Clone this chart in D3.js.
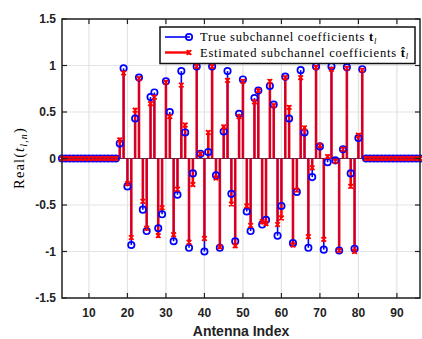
<!DOCTYPE html>
<html><head><meta charset="utf-8">
<script src="https://cdn.jsdelivr.net/npm/d3@7"></script>
<style>body{margin:0;background:#fff}svg{display:block}</style>
</head><body>
<svg id="c" width="422" height="339"></svg>
<script>
// ---- data ----
const firstIndex = 3, lastIndex = 96;
const antennaIndex = d3.range(firstIndex, lastIndex + 1);
const trueValues = [
  0,0,0,0,0,0,0,0,0,0,0,0,0,0,0,
  0.16,0.97,-0.30,-0.93,0.43,0.87,-0.55,-0.78,0.66,0.71,
  -0.75,-0.60,0.83,0.50,-0.89,-0.39,0.94,0.28,-0.96,-0.16,
  0.99,0.05,-1.00,0.07,0.99,-0.18,-0.96,0.29,0.94,-0.38,
  -0.89,0.48,0.85,-0.57,-0.78,0.65,0.73,-0.71,-0.66,0.78,
  0.58,-0.83,-0.51,0.88,0.43,-0.91,-0.36,0.95,0.28,-0.96,
  -0.20,0.99,0.13,-0.98,-0.04,0.99,-0.02,-0.99,0.10,0.98,
  -0.16,-0.97,0.22,0.96,
  0,0,0,0,0,0,0,0,0,0,0,0,0,0,0
];
const estValues = [
  0,0,0,0,0,0,0,0,0,0,0,0,0,0,0,
  0.20,0.92,-0.27,-0.85,0.52,0.86,-0.46,-0.75,0.59,0.66,
  -0.83,-0.53,0.82,0.45,-0.82,-0.33,0.79,0.36,-0.90,-0.28,
  0.99,0.05,-0.86,0.28,0.99,-0.21,-0.95,0.34,0.84,-0.49,
  -0.94,0.45,0.83,-0.51,-0.72,0.61,0.73,-0.68,-0.70,0.83,
  0.57,-0.71,-0.64,0.87,0.55,-0.93,-0.34,0.87,0.33,-0.84,
  -0.10,0.98,0.14,-0.87,0.02,0.96,-0.03,-0.99,0.10,0.97,
  -0.30,-1.00,0.25,0.95,
  0,0,0,0,0,0,0,0,0,0,0,0,0,0,0
];
const xTicks = [10,20,30,40,50,60,70,80,90];
const yTicks = [-1.5,-1,-0.5,0,0.5,1,1.5];
const yTickLabels = ["-1.5","-1","-0.5","0","0.5","1","1.5"];
const legendLabels = ["True subchannel coefficients ", "Estimated subchannel coefficients "];

// ---- layout ----
const L = 62, R = 420, T = 19, B = 298;
const svg = d3.select("#c");
const x = d3.scaleLinear().domain([firstIndex, lastIndex]).range([L, R]);
const y = d3.scaleLinear().domain([-1.5, 1.5]).range([B, T]);
const pts = antennaIndex.map((k, i) => ({k, t: trueValues[i], e: estValues[i]}));

// grid
const grid = svg.append("g").attr("stroke", "#e3e3e3").attr("stroke-width", 1.2);
grid.selectAll(".gx").data(xTicks).join("line")
  .attr("x1", d => x(d)).attr("x2", d => x(d)).attr("y1", T).attr("y2", B);
grid.selectAll(".gy").data(yTicks).join("line")
  .attr("y1", d => y(d)).attr("y2", d => y(d)).attr("x1", L).attr("x2", R);

// baseline
svg.append("line").attr("x1", L).attr("x2", R).attr("y1", y(0)).attr("y2", y(0))
  .attr("stroke", "#3a3a3a").attr("stroke-width", 1);

// blue stems
svg.append("g").selectAll("line").data(pts).join("line")
  .attr("x1", d => x(d.k)).attr("x2", d => x(d.k)).attr("y1", y(0)).attr("y2", d => y(d.t))
  .attr("stroke", "#0000ff").attr("stroke-width", 1.6);
// red stems
svg.append("g").selectAll("line").data(pts).join("line")
  .attr("x1", d => x(d.k)).attr("x2", d => x(d.k)).attr("y1", y(0)).attr("y2", d => y(d.e))
  .attr("stroke", "#ff0000").attr("stroke-width", 2.6);
// purple core where both overlap
svg.append("g").selectAll("line").data(pts.filter(d => d.t * d.e > 0)).join("line")
  .attr("x1", d => x(d.k)).attr("x2", d => x(d.k)).attr("y1", y(0))
  .attr("y2", d => y(Math.sign(d.t) * Math.min(Math.abs(d.t), Math.abs(d.e))))
  .attr("stroke", "#4000c0").attr("stroke-opacity", 0.45).attr("stroke-width", 1);

// blue circles
svg.append("g").selectAll("circle").data(pts).join("circle")
  .attr("cx", d => x(d.k)).attr("cy", d => y(d.t)).attr("r", 3.2)
  .attr("fill", "none").attr("stroke", "#0000ff").attr("stroke-width", 1.7);

// red x markers
function xMark(g, cx, cy, s) {
  g.append("path")
    .attr("d", `M${cx-s},${cy-s}L${cx+s},${cy+s}M${cx-s},${cy+s}L${cx+s},${cy-s}M${cx},${cy-s}L${cx},${cy+s}`)
    .attr("stroke", "#ff0000").attr("stroke-width", 1.7).attr("fill", "none");
}
const gx = svg.append("g");
pts.forEach(d => xMark(gx, x(d.k), y(d.e), 2.3));

// axes box
svg.append("rect").attr("x", L).attr("y", T).attr("width", R - L).attr("height", B - T)
  .attr("fill", "none").attr("stroke", "#222").attr("stroke-width", 1.5);

// ticks
const tk = svg.append("g").attr("stroke", "#222").attr("stroke-width", 1.2);
xTicks.forEach(v => {
  tk.append("line").attr("x1", x(v)).attr("x2", x(v)).attr("y1", B).attr("y2", B - 5);
  tk.append("line").attr("x1", x(v)).attr("x2", x(v)).attr("y1", T).attr("y2", T + 5);
});
yTicks.forEach(v => {
  tk.append("line").attr("y1", y(v)).attr("y2", y(v)).attr("x1", L).attr("x2", L + 5);
  tk.append("line").attr("y1", y(v)).attr("y2", y(v)).attr("x1", R).attr("x2", R - 5);
});

// tick labels
const lab = svg.append("g").attr("font-family", "'Liberation Sans', Arial, sans-serif")
  .attr("font-weight", "bold").attr("font-size", 12).attr("fill", "#222");
lab.selectAll(".xl").data(xTicks).join("text")
  .attr("x", d => x(d)).attr("y", 317).attr("text-anchor", "middle").text(d => d);
lab.selectAll(".yl").data(yTicks).join("text")
  .attr("x", 56).attr("y", d => y(d) + 4.3).attr("text-anchor", "end")
  .text((d, i) => yTickLabels[i]);

// x label
svg.append("text").attr("x", (L + R) / 2).attr("y", 336).attr("text-anchor", "middle")
  .attr("font-family", "'Liberation Sans', Arial, sans-serif").attr("font-weight", "bold")
  .attr("font-size", 14).attr("fill", "#222").text("Antenna Index");

// y label
const yl = svg.append("text").attr("transform", "translate(24,158) rotate(-90)")
  .attr("text-anchor", "middle").attr("font-family", "'Liberation Serif', serif")
  .attr("font-size", 14.5).attr("fill", "#000");
yl.append("tspan").text("Real(");
yl.append("tspan").attr("font-style", "italic").text("t");
yl.append("tspan").attr("font-style", "italic").attr("font-size", 10).attr("dy", 3).text("l,n");
yl.append("tspan").attr("dy", -3).text(")");
{
  const w = yl.node().getComputedTextLength();
  yl.attr("letter-spacing", ((64 - w) / 12).toFixed(3));
}

// legend
const lg = svg.append("g");
lg.append("rect").attr("x", 160).attr("y", 27).attr("width", 255).attr("height", 36.5)
  .attr("fill", "#fff").attr("stroke", "#111").attr("stroke-width", 1.5);
const rows = [37, 52.5];
lg.append("line").attr("x1", 165).attr("x2", 190).attr("y1", rows[0]).attr("y2", rows[0])
  .attr("stroke", "#0000ff").attr("stroke-width", 1.6);
lg.append("circle").attr("cx", 189).attr("cy", rows[0]).attr("r", 3.2)
  .attr("fill", "none").attr("stroke", "#0000ff").attr("stroke-width", 1.7);
lg.append("line").attr("x1", 165).attr("x2", 190).attr("y1", rows[1]).attr("y2", rows[1])
  .attr("stroke", "#ff0000").attr("stroke-width", 2.4);
xMark(lg, 189, rows[1], 2.3);

const targets = [177, 209];
legendLabels.forEach((s, i) => {
  const t = lg.append("text").attr("x", 200).attr("y", rows[i] + 4)
    .attr("font-family", "'Liberation Serif', serif").attr("font-size", 12.5).attr("fill", "#000");
  t.append("tspan").text(s);
  t.append("tspan").attr("font-weight", "bold").text(i === 0 ? "t" : "t\u0302");
  t.append("tspan").attr("font-style", "italic").attr("font-size", 8.5).attr("dy", 2.5).text("l");
  const w = t.node().getComputedTextLength();
  const n = s.length + 2;
  t.attr("letter-spacing", ((targets[i] - w) / n).toFixed(3));
});
</script>
</body></html>
